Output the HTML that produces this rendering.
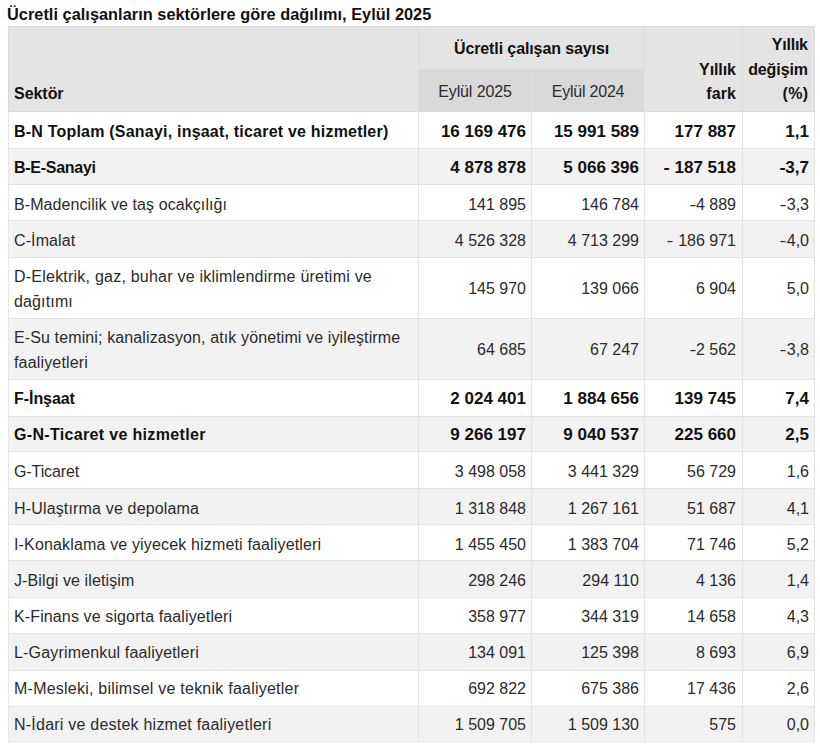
<!DOCTYPE html>
<html><head><meta charset="utf-8"><style>
html,body{margin:0;padding:0;background:#fff;}
body{font-family:"Liberation Sans",sans-serif;color:#2b2b2b;position:relative;width:820px;height:747px;overflow:hidden;}
.title{position:absolute;left:7px;top:4px;font-weight:bold;font-size:16.3px;color:#111;white-space:nowrap;line-height:20px;}
table{position:absolute;left:8px;top:26px;border-collapse:separate;border-spacing:0;table-layout:fixed;width:807px;border-top:1px solid #d8d8d8;font-size:16px;}
td,th{box-sizing:border-box;border-right:1px solid #e3e3e3;border-bottom:1px solid #e3e3e3;padding:0 4px;text-align:right;white-space:nowrap;}
td{line-height:25px;padding-top:3px;}
td.l{text-align:left;padding-left:5px;}
tr.b td{font-weight:bold;color:#111;}
tr.b td.n{font-size:17px;}
tr.b td{padding-top:1px;}
tr.g td{background:#f2f2f2;}
th{background:#e4e4e4;font-weight:bold;border-color:#dcdcdc;vertical-align:bottom;line-height:24.6px;padding-bottom:4px;color:#111;}
th.sub{background:#d9d9d9;font-weight:normal;text-align:center;border-right-color:#e2e2e2;border-bottom-color:#d8d8d8;vertical-align:middle;padding-bottom:0;padding-top:5px;color:#2b2b2b;}
th.grp{text-align:center;border-bottom:none;vertical-align:middle;padding-bottom:0;padding-top:2px;}
th.sek{text-align:left;padding-left:5px;border-left:1px solid #d8d8d8;}
td.l{border-left:1px solid #e6e6e6;}
th.c5{padding-right:6px;}
td.c2,th.c4{padding-right:6px;}
td.c0,td.c1,td.c3{padding-right:5px;}
em{font-style:normal;}
em.h{display:inline-block;transform:scaleX(1.3);transform-origin:100% 50%;margin-left:0.5px;}
tr.b em.h{transform:scaleX(1.1);margin-left:-1px;}
th.rb{border-bottom-color:#d8d8d8;}
tr.two td{padding-top:1px;}
tr[style*="--pt"] td{padding-top:var(--pt);}
td span{position:relative;top:var(--dy,0px);}
tr.last td{border-bottom-color:#d8d8d8;}
</style></head><body>
<div class="title"><span style="letter-spacing:0.046px;">Ücretli çalışanların sektörlere göre dağılımı, Eylül 2025</span></div>
<table>
<colgroup><col style="width:411px"><col style="width:113px"><col style="width:113px"><col style="width:98px"><col style="width:72px"></colgroup>
<thead>
<tr style="height:42px"><th rowspan="2" class="sek rb"><span style="letter-spacing:-0.040px;">Sektör</span></th><th colspan="2" class="grp"><span style="letter-spacing:-0.105px;">Ücretli çalışan sayısı</span></th><th rowspan="2" class="rb c4"><span style="letter-spacing:-0.080px;margin-right:0.080px;">Yıllık</span><br><span style="letter-spacing:0.133px;margin-right:-0.133px;">fark</span></th><th rowspan="2" class="rb c5"><span style="letter-spacing:-0.240px;margin-right:0.240px;">Yıllık</span><br><span style="letter-spacing:-0.100px;margin-right:0.100px;">değişim</span><br><span style="letter-spacing:0.300px;margin-right:-0.300px;">(%)</span></th></tr>
<tr style="height:43px"><th class="sub"><span style="letter-spacing:-0.111px;">Eylül 2025</span></th><th class="sub"><span style="letter-spacing:-0.222px;">Eylül 2024</span></th></tr>
</thead>
<tbody>
<tr class="b" style="height:37px;--pt:2px;"><td class="l"><span style="letter-spacing:0.208px;">B-N Toplam (Sanayi, inşaat, ticaret ve hizmetler)</span></td><td class="n c0"><span>16 169 476</span></td><td class="n c1"><span>15 991 589</span></td><td class="n c2"><span>177 887</span></td><td class="n c3"><span>1,1</span></td></tr><tr class="b g" style="height:36px;"><td class="l"><span style="letter-spacing:-0.267px;">B-E-Sanayi</span></td><td class="n c0"><span>4 878 878</span></td><td class="n c1"><span>5 066 396</span></td><td class="n c2"><span><em class="h">-</em> 187 518</span></td><td class="n c3"><span><em class="h">-</em>3,7</span></td></tr><tr class="" style="height:36px;"><td class="l"><span style="letter-spacing:0.076px;">B-Madencilik ve taş ocakçılığı</span></td><td class="n c0"><span>141 895</span></td><td class="n c1"><span>146 784</span></td><td class="n c2"><span><em class="h">-</em>4 889</span></td><td class="n c3"><span><em class="h">-</em>3,3</span></td></tr><tr class="g" style="height:37px;"><td class="l"><span style="letter-spacing:0.114px;">C-İmalat</span></td><td class="n c0"><span>4 526 328</span></td><td class="n c1"><span>4 713 299</span></td><td class="n c2"><span><em class="h">-</em> 186 971</span></td><td class="n c3"><span><em class="h">-</em>4,0</span></td></tr><tr class="two" style="height:61px;"><td class="l"><span style="letter-spacing:0.224px;">D-Elektrik, gaz, buhar ve iklimlendirme üretimi ve</span><br><span style="letter-spacing:0.143px;">dağıtımı</span></td><td class="n c0"><span>145 970</span></td><td class="n c1"><span>139 066</span></td><td class="n c2"><span>6 904</span></td><td class="n c3"><span>5,0</span></td></tr><tr class="g two" style="height:61px;"><td class="l"><span style="letter-spacing:0.119px;">E-Su temini; kanalizasyon, atık yönetimi ve iyileştirme</span><br><span style="letter-spacing:0.164px;">faaliyetleri</span></td><td class="n c0"><span>64 685</span></td><td class="n c1"><span>67 247</span></td><td class="n c2"><span><em class="h">-</em>2 562</span></td><td class="n c3"><span><em class="h">-</em>3,8</span></td></tr><tr class="b" style="height:37px;"><td class="l"><span style="letter-spacing:-0.057px;">F-İnşaat</span></td><td class="n c0"><span>2 024 401</span></td><td class="n c1"><span>1 884 656</span></td><td class="n c2"><span>139 745</span></td><td class="n c3"><span>7,4</span></td></tr><tr class="b g" style="height:35px;"><td class="l"><span style="letter-spacing:0.330px;">G-N-Ticaret ve hizmetler</span></td><td class="n c0"><span>9 266 197</span></td><td class="n c1"><span>9 040 537</span></td><td class="n c2"><span>225 660</span></td><td class="n c3"><span>2,5</span></td></tr><tr class="" style="height:37px;"><td class="l"><span style="letter-spacing:-0.100px;">G-Ticaret</span></td><td class="n c0"><span>3 498 058</span></td><td class="n c1"><span>3 441 329</span></td><td class="n c2"><span>56 729</span></td><td class="n c3"><span>1,6</span></td></tr><tr class="g" style="height:36px;"><td class="l"><span style="letter-spacing:0.164px;">H-Ulaştırma ve depolama</span></td><td class="n c0"><span>1 318 848</span></td><td class="n c1"><span>1 267 161</span></td><td class="n c2"><span>51 687</span></td><td class="n c3"><span>4,1</span></td></tr><tr class="" style="height:36px;"><td class="l"><span style="letter-spacing:0.157px;">I-Konaklama ve yiyecek hizmeti faaliyetleri</span></td><td class="n c0"><span>1 455 450</span></td><td class="n c1"><span>1 383 704</span></td><td class="n c2"><span>71 746</span></td><td class="n c3"><span>5,2</span></td></tr><tr class="g" style="height:37px;"><td class="l"><span style="letter-spacing:0.111px;">J-Bilgi ve iletişim</span></td><td class="n c0"><span>298 246</span></td><td class="n c1"><span>294 110</span></td><td class="n c2"><span>4 136</span></td><td class="n c3"><span>1,4</span></td></tr><tr class="" style="height:36px;--dy:-1px;"><td class="l"><span style="letter-spacing:0.123px;">K-Finans ve sigorta faaliyetleri</span></td><td class="n c0"><span>358 977</span></td><td class="n c1"><span>344 319</span></td><td class="n c2"><span>14 658</span></td><td class="n c3"><span>4,3</span></td></tr><tr class="g" style="height:37px;--dy:-1px;"><td class="l"><span style="letter-spacing:0.168px;">L-Gayrimenkul faaliyetleri</span></td><td class="n c0"><span>134 091</span></td><td class="n c1"><span>125 398</span></td><td class="n c2"><span>8 693</span></td><td class="n c3"><span>6,9</span></td></tr><tr class="" style="height:36px;--dy:-2px;"><td class="l"><span style="letter-spacing:0.235px;">M-Mesleki, bilimsel ve teknik faaliyetler</span></td><td class="n c0"><span>692 822</span></td><td class="n c1"><span>675 386</span></td><td class="n c2"><span>17 436</span></td><td class="n c3"><span>2,6</span></td></tr><tr class="g" style="height:35px;--dy:-1px;"><td class="l"><span style="letter-spacing:0.228px;">N-İdari ve destek hizmet faaliyetleri</span></td><td class="n c0"><span>1 509 705</span></td><td class="n c1"><span>1 509 130</span></td><td class="n c2"><span>575</span></td><td class="n c3"><span>0,0</span></td></tr>
</tbody></table>
</body></html>
